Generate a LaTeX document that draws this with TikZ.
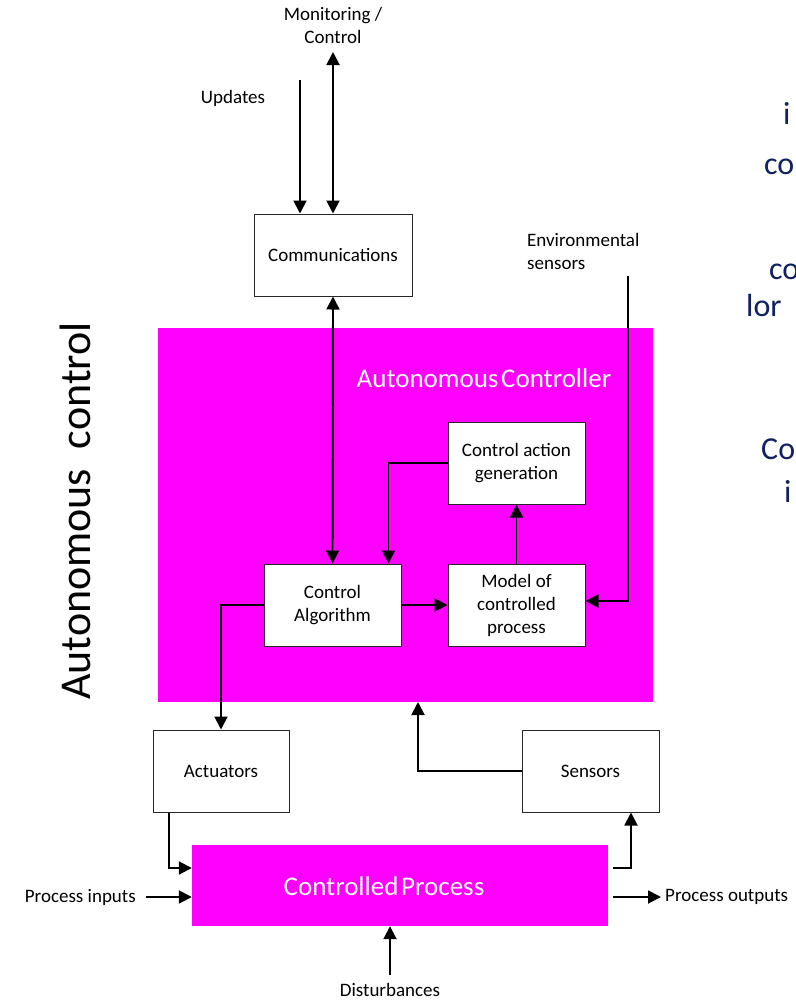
\documentclass[tikz,border=0pt]{standalone}
\usepackage{fontspec}
\setmainfont{Carlito}
\usetikzlibrary{arrows.meta}
\definecolor{magentabox}{RGB}{255,0,255}
\definecolor{navytext}{RGB}{16,32,96}
\begin{document}
\begin{tikzpicture}[x=1pt,y=-1pt,
  block/.style={draw=black!85,line width=1pt,fill=white,inner sep=0pt,
    align=center,font=\fontsize{19}{23}\selectfont},
  label/.style={inner sep=0pt,align=center,font=\fontsize{19}{23}\selectfont},
  flow/.style={line width=1.9pt,-{Triangle[length=13pt,width=13pt]}},
  biflow/.style={line width=1.9pt,{Triangle[length=13pt,width=13pt]}-{Triangle[length=13pt,width=13pt]}},
  frag/.style={inner sep=0pt,anchor=base west,text=navytext,font=\fontsize{32}{37}\selectfont}]
\useasboundingbox (0,0) rectangle (795,1001);
\fill[white] (0,0) rectangle (795,1001);

% side text running off the right edge
\begin{scope}
\clip (0,0) rectangle (795,1001);
\node[frag] (f1) at (783,124) {i};
\node[frag] (f2) at (764,174) {co};
\node[frag] (f3) at (769,279) {co};
\node[frag] (f4) at (746,316) {lor};
\node[frag] (f5) at (761,459) {Co};
\node[frag] (f6) at (784,502) {i};
\end{scope}

% large coloured blocks
\node[fill=magentabox,minimum width=495pt,minimum height=374pt,inner sep=0pt] (ac) at (405.5,515) {};
\node[text=white,font=\fontsize{27}{32}\selectfont,inner sep=0pt] (actitle) at (484,378) {Autonomous\hspace{0.1em}Controller};
\node[fill=magentabox,minimum width=416pt,minimum height=81pt,inner sep=0pt] (cp) at (400,885.5) {};
\node[text=white,font=\fontsize{27}{32}\selectfont,inner sep=0pt] (cptitle) at (384,886) {Controlled\hspace{0.1em}Process};

\node[rotate=90,inner sep=0pt,font=\fontsize{44}{52}\selectfont] (side) at (75,511) {Autonomous\ \ control};

% white blocks
\node[block,minimum width=158pt,minimum height=82pt] (comm) at (333,255) {Communications};
\node[block,minimum width=137pt,minimum height=82pt] (cag) at (516.5,463) {Control action\\generation};
\node[block,minimum width=137pt,minimum height=82pt] (calg) at (332.5,605) {Control\\Algorithm};
\node[block,minimum width=137pt,minimum height=82pt] (model) at (516.5,605) {Model of\\controlled\\process};
\node[block,minimum width=136pt,minimum height=82pt] (act) at (221,771) {Actuators};
\node[block,minimum width=137pt,minimum height=82pt] (sens) at (590.5,771) {Sensors};

% free labels
\node[label] (upd) at (233,98) {Updates};
\node[label] (mon) at (333,25) {Monitoring /\\Control};
\node[label,align=left,anchor=north west] (env) at (527,233) {Environmental\\sensors};
\node[label,anchor=east] (pin) at (136,897) {Process inputs};
\node[label,anchor=west] (pout) at (665,897) {Process outputs};
\node[label] (dist) at (390,990) {Disturbances};

% connector end points
\coordinate (updtop) at (300,80);
\coordinate (montop) at (333,52);
\coordinate (envtop) at (628,276);
\coordinate (pinstart) at (146,897);
\coordinate (poutend) at (661,897);
\coordinate (diststart) at (390,975);
\coordinate (acin) at (418,702);

% connectors
\draw[flow] (updtop) -- (updtop |- comm.north);
\draw[biflow] (comm.north) -- (montop);
\draw[biflow] (comm.south) -- (calg.north);
\draw[flow] (calg.east) -- (model.west);
\draw[flow] (model.north) -- (cag.south);
\draw[flow] (cag.west) -| ([xshift=56pt]calg.north);
\draw[flow] (envtop) |- ([yshift=4pt]model.east);
\draw[flow] (calg.west) -| (act.north);
\draw[flow] (sens.west) -| (acin);
\draw[flow] ([xshift=-52pt]act.south) |- ([yshift=17.5pt]cp.west);
\draw[flow] (pinstart) -- (pinstart -| cp.west);
\draw[flow] ([yshift=17.5pt,xshift=5pt]cp.east) -| ([xshift=40.5pt]sens.south);
\draw[flow] ([xshift=5pt]cp.east |- poutend) -- (poutend);
\draw[flow] (diststart) -- (diststart |- cp.south);
\end{tikzpicture}
\end{document}
